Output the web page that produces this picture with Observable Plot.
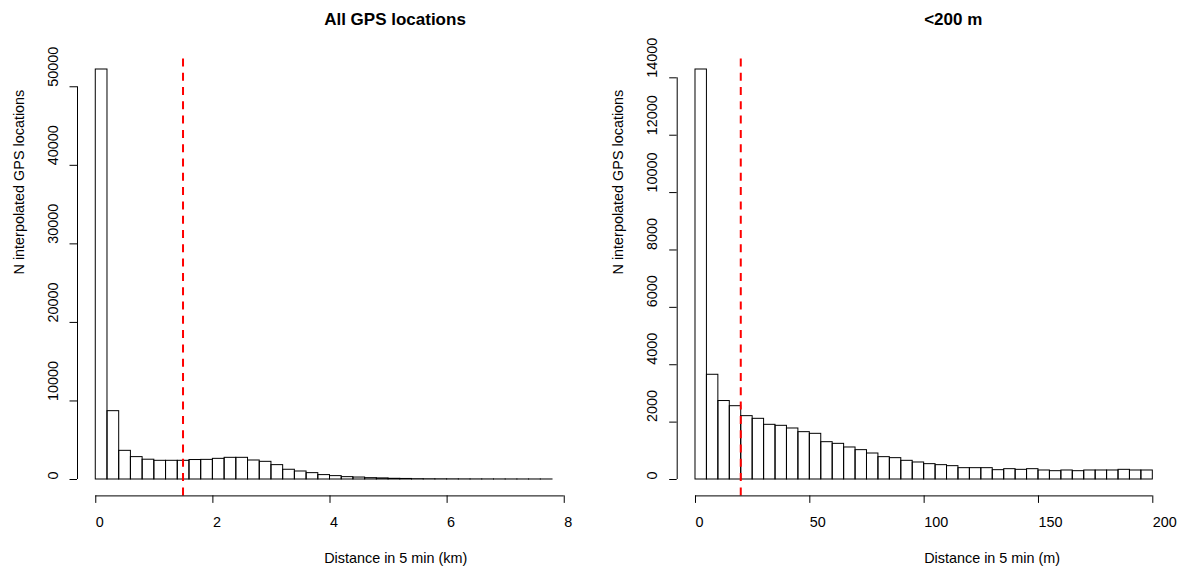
<!DOCTYPE html>
<html>
<head>
<meta charset="utf-8">
<script src="https://cdn.jsdelivr.net/npm/d3@7"></script>
<script src="https://cdn.jsdelivr.net/npm/@observablehq/plot@0.6"></script>
<style>
  html, body { margin: 0; padding: 0; background: #fff; }
  #wrap { display: flex; width: 1181px; height: 568px; }
</style>
</head>
<body>
<div id="wrap"></div>
<script>
// ---- data ----
const leftTitle = "All GPS locations";
const leftXLabel = "Distance in 5 min (km)";
const leftBinWidth = 0.2; // km
const leftCounts = [52200, 8700, 3650, 2850, 2520, 2380, 2380, 2380, 2480, 2500,
  2630, 2760, 2760, 2420, 2250, 1830, 1240, 1020, 810, 560,
  430, 300, 250, 170, 140, 90, 70, 40, 30, 25,
  20, 15, 12, 10, 8, 6, 5, 4, 3];
const leftXTicks = [0, 2, 4, 6, 8];
const leftYTicks = [0, 10000, 20000, 30000, 40000, 50000];
const leftThreshold = 1.49;

const rightTitle = "<200 m";
const rightXLabel = "Distance in 5 min (m)";
const rightBinWidth = 5; // m
const rightCounts = [14290, 3650, 2735, 2555, 2208, 2115, 1906, 1871, 1778, 1650,
  1592, 1301, 1243, 1116, 1023, 906, 779, 744, 651, 593,
  535, 500, 465, 395, 395, 395, 325, 360, 337, 360,
  314, 290, 314, 290, 314, 314, 314, 337, 314, 314];
const rightXTicks = [0, 50, 100, 150, 200];
const rightYTicks = [0, 2000, 4000, 6000, 8000, 10000, 12000, 14000];
const rightThreshold = 19.8;

const yLabel = "N interpolated GPS locations";

const FONT = "'Liberation Sans', Arial, Helvetica, sans-serif";

function hist({counts, binWidth, xTicks, yTicks, threshold, title, xLabel, width, marginLeft, marginRight}) {
  const bins = counts.map((c, i) => ({x1: i * binWidth, x2: (i + 1) * binWidth, count: c}));
  const xmax = counts.length * binWidth;
  const ymax = d3.max(counts);
  const xd = [-0.04 * xmax, 1.04 * xmax];
  const yd = [-0.04 * ymax, 1.04 * ymax];
  return Plot.plot({
    width, height: 568,
    marginLeft, marginRight, marginTop: 52.6, marginBottom: 72.6,
    x: {domain: xd, label: null},
    y: {domain: yd, label: null},
    style: {fontFamily: FONT, fontSize: "14.4px", color: "#000", background: "#fff", overflow: "visible"},
    marks: [
      Plot.rectY(bins, {x1: "x1", x2: "x2", y: "count", fill: "none", stroke: "#000", strokeWidth: 1}),
      Plot.ruleX([threshold], {stroke: "#ff0000", strokeWidth: 2, strokeDasharray: "8,6.3", strokeDashoffset: 8.5}),
      // y axis
      Plot.ruleX([xd[0]], {y1: yTicks[0], y2: yTicks[yTicks.length - 1], stroke: "#000"}),
      Plot.axisY(yTicks, {anchor: "left", tickSize: 7.5, tickFormat: () => "", label: null, stroke: "#000"}),
      Plot.text(yTicks, {x: xd[0], y: d => d, text: d => String(d), rotate: -90, textAnchor: "start", lineAnchor: "middle", dx: -24.5, fontSize: 14.4, fill: "#000"}),
      // x axis
      Plot.ruleY([yd[0]], {x1: xTicks[0], x2: xTicks[xTicks.length - 1], stroke: "#000"}),
      Plot.axisX(xTicks, {anchor: "bottom", tickSize: 7.5, tickFormat: () => "", label: null, stroke: "#000"}),
      Plot.text(xTicks, {x: d => d, y: yd[0], text: d => String(d), textAnchor: "start", lineAnchor: "middle", dy: 26.8, fontSize: 14.4, fill: "#000"}),
      // titles
      Plot.text([title], {frameAnchor: "top", textAnchor: "start", lineAnchor: "middle", dy: -34, fontSize: 17, fontWeight: "bold", fill: "#000"}),
      Plot.text([xLabel], {frameAnchor: "bottom", textAnchor: "start", lineAnchor: "middle", dy: 62.2, fontSize: 14.4, fill: "#000"}),
      Plot.text([yLabel], {frameAnchor: "left", rotate: -90, textAnchor: "start", lineAnchor: "middle", dx: -58.5, fontSize: 14.4, fill: "#000"})
    ]
  });
}

const wrap = document.getElementById("wrap");
wrap.appendChild(hist({
  counts: leftCounts, binWidth: leftBinWidth, xTicks: leftXTicks, yTicks: leftYTicks,
  threshold: leftThreshold, title: leftTitle, xLabel: leftXLabel,
  width: 590, marginLeft: 77, marginRight: 19.7
}));
wrap.appendChild(hist({
  counts: rightCounts, binWidth: rightBinWidth, xTicks: rightXTicks, yTicks: rightYTicks,
  threshold: rightThreshold, title: rightTitle, xLabel: rightXLabel,
  width: 591, marginLeft: 86.7, marginRight: 10.4
}));
</script>
</body>
</html>
